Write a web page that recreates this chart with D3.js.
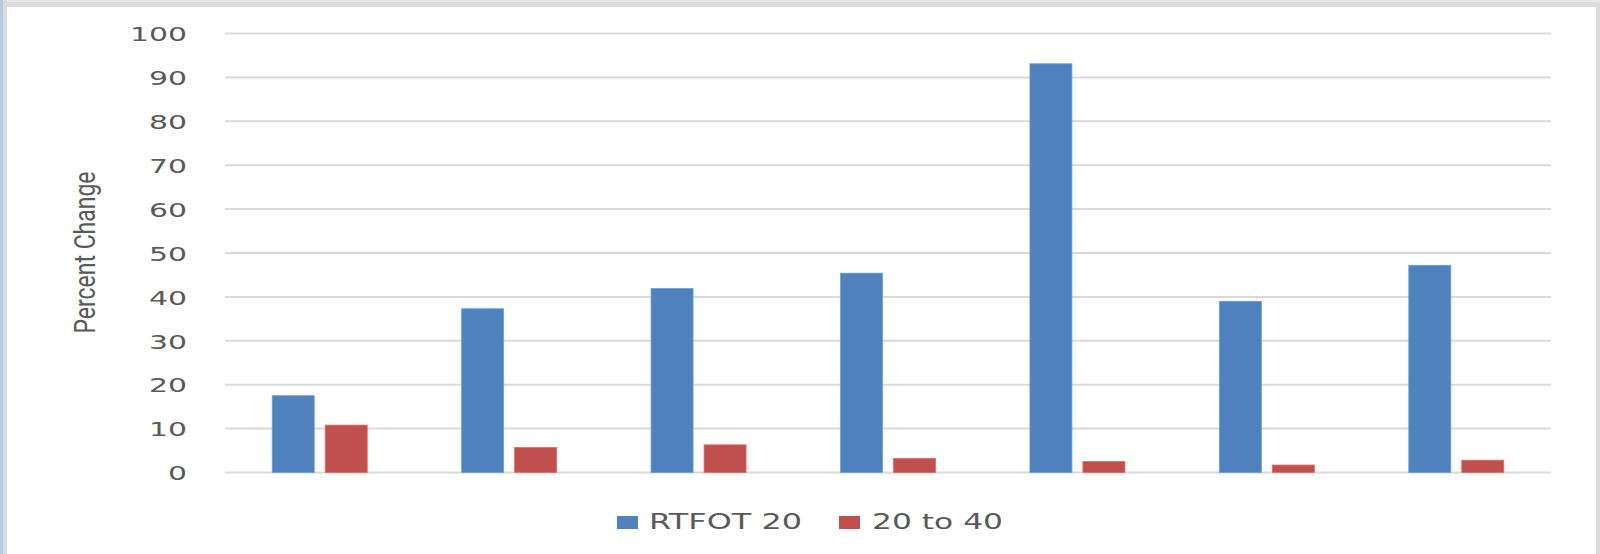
<!DOCTYPE html>
<html>
<head>
<meta charset="utf-8">
<script src="https://cdn.jsdelivr.net/npm/d3@7"></script>
<style>
  html, body { margin: 0; padding: 0; background: #fff; }
  svg { display: block; }
</style>
</head>
<body>
<svg id="chart" width="1600" height="554"></svg>
<script>
// ---- data ----
const categories = ["1", "2", "3", "4", "5", "6", "7"];
const seriesNames = ["RTFOT 20", "20 to 40"];
const rtfot20 = [17.5, 37.3, 41.9, 45.4, 93.1, 39.0, 47.2];
const to40 = [10.8, 5.7, 6.3, 3.2, 2.5, 1.7, 2.8];
const yTicks = [0, 10, 20, 30, 40, 50, 60, 70, 80, 90, 100];
const yTitle = "Percent Change";
const colors = ["#4f81bd", "#c0504d"];

const seriesValues = [rtfot20, to40];
const rows = categories.map((c, i) => ({ cat: c, vals: seriesNames.map((s, j) => ({ s, v: seriesValues[j][i] })) }));

const svg = d3.select("#chart");
const W = 1600, H = 554;

// frame
svg.append("rect").attr("x", 0).attr("y", 0).attr("width", W).attr("height", H).attr("fill", "#fff");
svg.append("rect").attr("x", 0).attr("y", 0).attr("width", W).attr("height", 7).attr("fill", "#dcdcdc");
svg.append("rect").attr("x", 0).attr("y", 0).attr("width", W).attr("height", 2).attr("fill", "#e8e8e8");
svg.append("rect").attr("x", 3).attr("y", 0).attr("width", 4).attr("height", H).attr("fill", "#dcdcdc");
svg.append("rect").attr("x", 0).attr("y", 0).attr("width", 3).attr("height", H).attr("fill", "#b8c9e8");
svg.append("rect").attr("x", 1596).attr("y", 7).attr("width", 4).attr("height", H - 7).attr("fill", "#dcdcdc");

// scales
const plotL = 225, plotR = 1551, plotT = 33.5, plotB = 472.5;
const x0 = d3.scaleBand().domain(categories).range([plotL, plotR]).padding(0);
const bw = x0.bandwidth();
const x1 = d3.scaleBand().domain(seriesNames).range([bw / 2 - 47.5, bw / 2 + 47.5]).paddingInner(0.2075).paddingOuter(0);
const y = d3.scaleLinear().domain([0, 100]).range([plotB, plotT]);
const color = d3.scaleOrdinal().domain(seriesNames).range(colors);

// gridlines
svg.append("g").selectAll("line").data(yTicks).join("line")
  .attr("x1", plotL).attr("x2", plotR)
  .attr("y1", d => y(d)).attr("y2", d => y(d))
  .attr("stroke", "#d9d9d9").attr("stroke-width", 2);

// y axis labels via d3 axis
const yAxis = d3.axisLeft(y).tickValues(yTicks).tickSize(0).tickPadding(0).tickFormat(d3.format("d"));
const gy = svg.append("g").attr("transform", "translate(187,0)").call(yAxis);
gy.select(".domain").remove();
gy.selectAll("text")
  .attr("font-family", "DejaVu Sans, sans-serif")
  .attr("font-size", 20)
  .attr("fill", "#595959")
  .attr("dy", "0.36em")
  .attr("textLength", d => String(d).length * 19)
  .attr("lengthAdjust", "spacingAndGlyphs");

// bars
const groups = svg.append("g").selectAll("g").data(rows).join("g")
  .attr("transform", d => `translate(${x0(d.cat)},0)`);
groups.selectAll("rect").data(d => d.vals).join("rect")
  .attr("x", d => x1(d.s))
  .attr("width", x1.bandwidth())
  .attr("y", d => y(d.v))
  .attr("height", d => y(0) - y(d.v))
  .attr("fill", d => color(d.s))
  .attr("stroke", d => d3.color(color(d.s)).brighter(0.6))
  .attr("stroke-width", 0.8);

// y title
svg.append("text")
  .attr("transform", "translate(95,252.5) rotate(-90)")
  .attr("text-anchor", "middle")
  .attr("font-family", "Roboto, sans-serif")
  .attr("font-weight", 400)
  .attr("font-size", 30)
  .attr("fill", "#595959")
  .attr("textLength", 162)
  .attr("lengthAdjust", "spacingAndGlyphs")
  .text(yTitle);

// legend
const legendPos = [{ sx: 617, tx: 649, tl: 153 }, { sx: 839, tx: 872, tl: 131 }];
const lg = svg.append("g").selectAll("g").data(seriesNames).join("g");
lg.append("rect")
  .attr("x", (d, i) => legendPos[i].sx).attr("y", 516)
  .attr("width", 21).attr("height", 13)
  .attr("fill", d => color(d));
lg.append("text")
  .attr("x", (d, i) => legendPos[i].tx).attr("y", 528.7)
  .attr("font-family", "DejaVu Sans, sans-serif")
  .attr("font-size", 21)
  .attr("fill", "#595959")
  .attr("textLength", (d, i) => legendPos[i].tl)
  .attr("lengthAdjust", "spacingAndGlyphs")
  .text(d => d);
</script>
</body>
</html>
